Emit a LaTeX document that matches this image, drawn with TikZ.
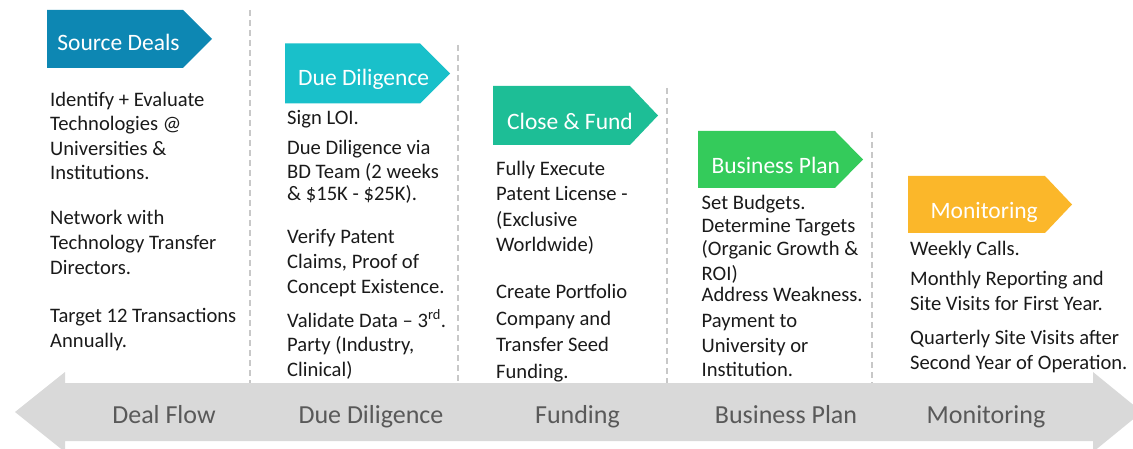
\documentclass[tikz,border=0pt]{standalone}
\usepackage{fontspec}
\setmainfont{Carlito}
\definecolor{cSource}{HTML}{0D87B3}
\definecolor{cDue}{HTML}{19C0CA}
\definecolor{cClose}{HTML}{1DBE96}
\definecolor{cBiz}{HTML}{34CB5B}
\definecolor{cMon}{HTML}{FBB72A}
\definecolor{bandgray}{HTML}{D9D9D9}
\definecolor{bandtext}{HTML}{595959}
\definecolor{sepgray}{HTML}{C8C8C8}
\definecolor{bodytext}{HTML}{1A1A1A}
\begin{document}
\begin{tikzpicture}[x=1pt,y=-1pt,
  body/.style={anchor=base west, inner sep=0pt, font=\fontsize{20.6}{24}\selectfont, text=bodytext},
  tag/.style={anchor=base, inner sep=0pt, font=\fontsize{23.5}{28}\selectfont, text=white},
  bandlabel/.style={anchor=base, inner sep=0pt, font=\fontsize{26}{30}\selectfont, text=bandtext},
  sepline/.style={draw=sepgray, line width=1.2pt, dash pattern=on 6pt off 4pt}]
\useasboundingbox (0,0) rectangle (1133,449);
\clip (0,0) rectangle (1133,449);
% bottom double arrow
\fill[bandgray] (15,412) -- (65,372) -- (65,383) -- (1093,383) -- (1093,372) -- (1142,412)
  -- (1093,452) -- (1093,441) -- (65,441) -- (65,452) -- cycle;
% separators
\draw[sepline] (250,10) -- (250,383);
\draw[sepline] (458,45) -- (458,383);
\draw[sepline] (667,88) -- (667,383);
\draw[sepline] (872,132) -- (872,383);
% pentagons
\fill[cSource] (47,10) -- (183,10) -- (212,39) -- (183,68) -- (47,68) -- cycle;
\fill[cDue] (285,43.5) -- (420,43.5) -- (450,73.5) -- (420,103.5) -- (285,103.5) -- cycle;
\fill[cClose] (493,86) -- (630,86) -- (658,115.5) -- (630,145) -- (493,145) -- cycle;
\fill[cBiz] (698,131) -- (835,131) -- (863,159.5) -- (835,188) -- (698,188) -- cycle;
\fill[cMon] (908,176) -- (1045,176) -- (1072,204.5) -- (1045,233) -- (908,233) -- cycle;
\node[tag] (t1) at (118.5,51) {Source Deals};
\node[tag] (t2) at (363.7,86) {Due Diligence};
\node[tag] (t3) at (570,129.3) {Close \& Fund};
\node[tag] (t4) at (775.8,173.3) {Business Plan};
\node[tag] (t5) at (984.2,218.3) {Monitoring};
% band labels
\node[bandlabel] (b1) at (164,423) {Deal Flow};
\node[bandlabel] (b2) at (371,423) {Due Diligence};
\node[bandlabel] (b3) at (577.5,423) {Funding};
\node[bandlabel] (b4) at (786,423) {Business Plan};
\node[bandlabel] (b5) at (986,423) {Monitoring};
% column 1
\foreach \t/\y [count=\i] in {{Identify + Evaluate}/106.5, {Technologies @}/131, {Universities \&}/155.5,
  {Institutions.}/180, {Network with}/225, {Technology Transfer}/250, {Directors.}/275,
  {Target 12 Transactions}/322, {Annually.}/347}
  \node[body] (ca\i) at (50,\y) {\t};
% column 2
\foreach \t/\y [count=\i] in {{Sign LOI.}/125, {Due Diligence via}/155, {BD Team (2 weeks}/178.3,
  {\& \$15K - \$25K).}/201, {Verify Patent}/243.3, {Claims, Proof of}/268.3, {Concept Existence.}/293.3,
  {Validate Data -- 3\textsuperscript{rd}.}/327.3, {Party (Industry,}/351.7, {Clinical)}/376.7}
  \node[body] (cb\i) at (287,\y) {\t};
% column 3
\foreach \t/\y [count=\i] in {{Fully Execute}/176, {Patent License -}/200.7, {(Exclusive}/226.7,
  {Worldwide)}/251.7, {Create Portfolio}/298.3, {Company and}/325, {Transfer Seed}/351.7, {Funding.}/378.3}
  \node[body] (cc\i) at (496,\y) {\t};
% column 4
\foreach \t/\y [count=\i] in {{Set Budgets.}/210, {Determine Targets}/232.3, {(Organic Growth \&}/256,
  {ROI)}/280, {Address Weakness.}/301.7, {Payment to}/327.3, {University or}/352.7, {Institution.}/376.7}
  \node[body] (cd\i) at (701.5,\y) {\t};
% column 5
\foreach \t/\y [count=\i] in {{Weekly Calls.}/256, {Monthly Reporting and}/285,
  {Site Visits for First Year.}/310, {Quarterly Site Visits after}/344, {Second Year of Operation.}/369.3}
  \node[body] (ce\i) at (910,\y) {\t};
\end{tikzpicture}
\end{document}
